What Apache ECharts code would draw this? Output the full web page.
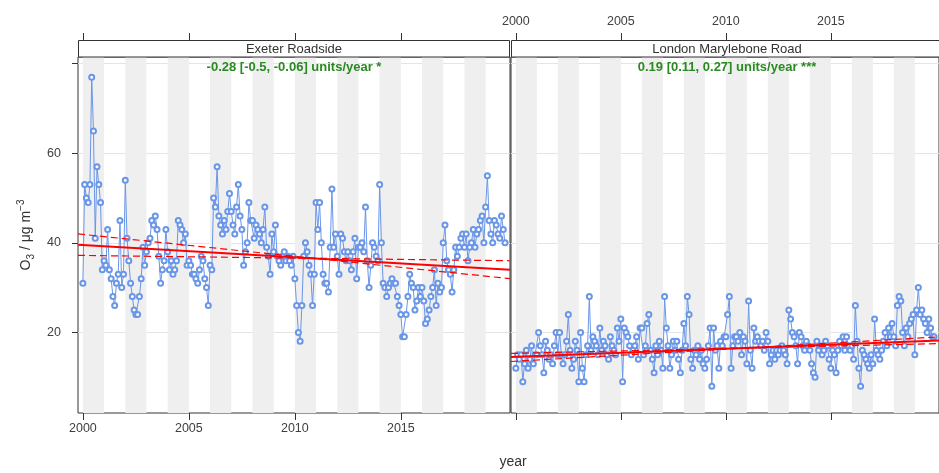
<!DOCTYPE html>
<html><head><meta charset="utf-8">
<script src="https://cdn.jsdelivr.net/npm/echarts@6/dist/echarts.min.js"></script>
<style>html,body{margin:0;padding:0;background:#fff}#c{width:939px;height:473px}</style>
</head><body><div id="c"></div>
<script>
const panels = ['Exeter Roadside', 'London Marylebone Road'];
const trendTexts = ['-0.28 [-0.5, -0.06] units/year *', '0.19 [0.11, 0.27] units/year ***'];
const startYear = 2000;

const exeterO3 = [
  31, 53, 50, 49, 53, 77, 65, 41, 57, 53, 49, 34,
  36, 35, 43, 34, 32, 28, 26, 31, 33, 45, 30, 33,
  54, 41, 36, 31, 28, 25, 24, 24, 28, 32, 39, 35,
  38, 40, 41, 45, 44, 46, 43, 37, 31, 34, 36, 43,
  38, 34, 36, 33, 34, 36, 45, 44, 43, 40, 42, 35,
  36, 35, 33, 33, 32, 31, 34, 37, 36, 32, 30, 26,
  35, 34, 50, 48, 57, 46, 44, 42, 45, 43, 47, 51,
  47, 44, 42, 48, 53, 46, 43, 35, 38, 40, 49, 45,
  45, 41, 44, 43, 42, 40, 43, 48, 39, 37, 33, 42,
  38, 44, 37, 36, 35, 37, 38, 36, 37, 36, 35, 37,
  32, 26, 20, 18, 26, 37, 40, 38, 35, 33, 26, 33,
  49, 43, 49, 40, 33, 31, 31, 29, 39, 52, 39, 42,
  37, 33, 42, 41, 38, 36, 38, 36, 34, 38, 41, 32,
  39, 39, 40, 38, 48, 36, 30, 35, 40, 39, 37, 36,
  53, 40, 31, 30, 28, 30, 31, 32, 31, 31, 28, 26,
  24, 19, 19, 24, 28, 33, 31, 30, 25, 27, 30, 28,
  30, 27, 22, 23, 25, 28, 30, 34, 26, 31, 29, 30,
  40, 44, 36, 34, 33, 29, 34, 39, 37, 39, 41, 42,
  39, 42, 36, 39, 40, 43, 39, 42, 43, 45, 46, 40,
  48, 55, 45, 42, 40, 45, 44, 42, 41, 46, 43, 40
];
const londonO3 = [
  12, 15, 14, 15, 9, 13, 16, 12, 14, 17, 13, 15,
  15, 20, 17, 15, 11, 18, 16, 14, 15, 13, 17, 20,
  15, 20, 15, 13, 15, 18, 24, 16, 12, 14, 18, 16,
  9, 20, 12, 9, 15, 17, 28, 16, 19, 18, 17, 15,
  21, 16, 18, 17, 15, 14, 19, 17, 16, 15, 21, 18,
  23, 9, 21, 20, 19, 17, 15, 16, 17, 19, 14, 21,
  21, 15, 17, 22, 24, 16, 14, 11, 17, 15, 18, 16,
  12, 28, 21, 17, 12, 15, 18, 16, 18, 14, 11, 16,
  22, 17, 28, 24, 14, 12, 16, 15, 17, 14, 16, 13,
  12, 14, 17, 21, 8, 21, 16, 17, 12, 18, 17, 19,
  19, 24, 28, 12, 17, 19, 19, 18, 20, 15, 19, 18,
  13, 27, 16, 12, 21, 18, 19, 18, 17, 18, 16, 20,
  18, 13, 15, 16, 14, 16, 15, 16, 17, 16, 15, 13,
  25, 23, 20, 19, 17, 13, 20, 19, 17, 16, 18, 17,
  16, 13, 11, 10, 18, 16, 17, 15, 16, 18, 17, 14,
  12, 16, 15, 11, 16, 18, 17, 19, 16, 19, 17, 16,
  17, 14, 26, 18, 12, 8, 16, 15, 14, 13, 12, 15,
  13, 23, 16, 15, 14, 16, 18, 20, 17, 21, 19, 22,
  19, 17, 26, 28, 27, 20, 17, 21, 19, 22, 23, 24,
  15, 25, 30, 24, 25, 23, 22, 20, 23, 21, 19, 19
];

const xTicks = [2000, 2005, 2010, 2015];
const yTicks = [20, 40, 60, 80];
const yLabels = [20, 40, 60];
const shadedYears = [2000, 2002, 2004, 2006, 2008, 2010, 2012, 2014, 2016, 2018];
const xRange = [1999.77, 2020.15];
const yRange = [2, 81.5];

// trend lines: [value at xRange[0], value at xRange[1]]
const exeterTrend = [39.6, 34.0];
const exeterTrendSteep = [42.0, 32.0];
const exeterTrendFlat = [37.2, 36.0];
const londonTrend = [14.5, 18.2];
const londonTrendSteep = [13.5, 19.0];
const londonTrendFlat = [15.3, 17.5];

const FONT = '"Liberation Sans", Arial, sans-serif';
const BLUE = '#6a96e8';
const RED = '#ff0000';
const BORDER = '#333';

const toSeries = arr => arr.map((v, i) => [startYear + i / 12, v]);
const trendPts = t => [[xRange[0], t[0]], [xRange[1], t[1]]];

const gridL = 78, gridTop = 57, gridW = 432, gridH = 356, gridR = 511;

function xAxisDef(gridIndex, position, showLabels) {
  return {
    type: 'value', gridIndex, position, min: xRange[0], max: xRange[1],
    offset: position === 'top' ? 17 : 0,
    axisLine: { show: false },
    axisTick: { show: true, inside: false, length: 7, customValues: xTicks, lineStyle: { color: BORDER } },
    axisLabel: { show: showLabels, customValues: xTicks, margin: position === 'top' ? 12 : 9,
      formatter: v => String(Math.round(v)),
      fontSize: 12.5, color: '#404040', fontFamily: FONT },
    splitLine: { show: false }
  };
}
function yAxisDef(gridIndex, showLabels) {
  return {
    type: 'value', gridIndex, min: yRange[0], max: yRange[1],
    axisLine: { show: false },
    axisTick: { show: showLabels, length: 6, customValues: yTicks, lineStyle: { color: BORDER } },
    axisLabel: { show: showLabels, customValues: yLabels, margin: 17, fontSize: 12.5, color: '#404040', fontFamily: FONT,
      formatter: v => String(Math.round(v)) },
    splitLine: { show: true, lineStyle: { color: '#e4e4e4', width: 1 } },
    name: showLabels ? '{t|O}{s|3}{t| / \u03bcg m}{p|\u22123}' : '',
    nameLocation: 'middle', nameGap: 42, nameRotate: 90,
    nameTextStyle: { rich: {
      t: { fontSize: 14, color: '#333', fontFamily: FONT, lineHeight: 20 },
      s: { fontSize: 10, color: '#333', fontFamily: FONT, verticalAlign: 'bottom', lineHeight: 20 },
      p: { fontSize: 10, color: '#333', fontFamily: FONT, verticalAlign: 'top', lineHeight: 20 }
    } }
  };
}

function dataSeries(arr, idx) {
  return {
    type: 'line', xAxisIndex: idx * 2, yAxisIndex: idx, data: toSeries(arr),
    symbol: 'emptyCircle', symbolSize: 5, showAllSymbol: true,
    lineStyle: { color: BLUE, width: 1 }, itemStyle: { color: BLUE, borderWidth: 1 },
    z: 2, animation: false, silent: true,
    markArea: { silent: true, itemStyle: { color: '#efefef' },
      data: shadedYears.map(y => [{ xAxis: y }, { xAxis: y + 1 }]) }
  };
}
function trendSeries(t, idx, dashed) {
  return {
    type: 'line', xAxisIndex: idx * 2, yAxisIndex: idx, data: trendPts(t),
    symbol: 'none', z: 4, animation: false, silent: true,
    itemStyle: { color: RED },
    lineStyle: { color: RED, width: dashed ? 1.2 : 2, type: dashed ? [7, 4] : 'solid', opacity: 1 }
  };
}

const chart = echarts.init(document.getElementById('c'), null, { renderer: 'canvas' });
chart.setOption({
  animation: false,
  backgroundColor: '#fff',
  grid: [
    { left: gridL, top: gridTop, width: gridW, height: gridH, show: true, borderColor: BORDER, borderWidth: 1, backgroundColor: 'transparent' },
    { left: gridR, top: gridTop, width: gridW, height: gridH, show: true, borderColor: BORDER, borderWidth: 1, backgroundColor: 'transparent' }
  ],
  xAxis: [
    xAxisDef(0, 'bottom', true), xAxisDef(0, 'top', false),
    xAxisDef(1, 'bottom', false), xAxisDef(1, 'top', true)
  ],
  yAxis: [yAxisDef(0, true), yAxisDef(1, false)],
  series: [
    dataSeries(exeterO3, 0),
    trendSeries(exeterTrend, 0, false), trendSeries(exeterTrendSteep, 0, true), trendSeries(exeterTrendFlat, 0, true),
    dataSeries(londonO3, 1),
    trendSeries(londonTrend, 1, false), trendSeries(londonTrendSteep, 1, true), trendSeries(londonTrendFlat, 1, true)
  ],
  graphic: [
    { type: 'rect', shape: { x: gridL + 0.5, y: 40.5, width: gridW - 1, height: 16.5 }, style: { fill: '#fff', stroke: BORDER, lineWidth: 1 }, z: 10 },
    { type: 'rect', shape: { x: gridR + 0.5, y: 40.5, width: gridW - 1, height: 16.5 }, style: { fill: '#fff', stroke: BORDER, lineWidth: 1 }, z: 10 },
    { type: 'text', x: gridL + gridW / 2, y: 49.5, style: { text: panels[0], fontSize: 13, fill: '#333', fontFamily: FONT, textAlign: 'center', textVerticalAlign: 'middle' }, z: 11 },
    { type: 'text', x: gridR + gridW / 2, y: 49.5, style: { text: panels[1], fontSize: 13, fill: '#333', fontFamily: FONT, textAlign: 'center', textVerticalAlign: 'middle' }, z: 11 },
    { type: 'text', x: gridL + gridW / 2, y: 67, style: { text: trendTexts[0], fontSize: 13, fontWeight: 'bold', fill: '#2a8a22', fontFamily: FONT, textAlign: 'center', textVerticalAlign: 'middle' }, z: 11 },
    { type: 'text', x: gridR + gridW / 2, y: 67, style: { text: trendTexts[1], fontSize: 13, fontWeight: 'bold', fill: '#2a8a22', fontFamily: FONT, textAlign: 'center', textVerticalAlign: 'middle' }, z: 11 },
    { type: 'text', x: 513, y: 462, style: { text: 'year', fontSize: 14, fill: '#333', fontFamily: FONT, textAlign: 'center', textVerticalAlign: 'middle' }, z: 11 }
  ]
});
</script>
</body></html>
